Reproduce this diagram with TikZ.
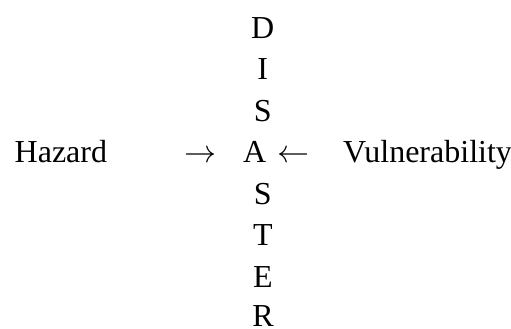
\documentclass[tikz,border=0pt]{standalone}
\usepackage{fix-cm}
\usepackage{fontspec}
\setmainfont{Liberation Serif}
\usepackage{tikz}
\usetikzlibrary{positioning}

\begin{document}
\begin{tikzpicture}[
  x=1pt,
  y=-1pt,
  word/.style={anchor=base, inner sep=0pt, font=\fontsize{32}{38}\selectfont},
  letter/.style={word},
  sign/.style={word}
]
  % Frame: 511 x 329, origin at the upper left
  \useasboundingbox (0, 0) rectangle (511, 329);
  % The word read downwards (x, baseline)
  \foreach \ch/\x/\y/\nm in {D/262.7/38/d, I/262.7/79.5/i, S/262.7/121/s1,
                             A/254.7/162.5/a, S/262.7/204/s2, T/263/245.5/t,
                             E/263/287/e, R/263/326.5/r} {
    \node[letter] (\nm) at (\x, \y) {\ch};
  }
  % The two causes on the middle row
  \node[word, anchor=base west] (hazard) at (14.5, 162.5) {Hazard};
  \node[word, anchor=base west] (vuln) at (343, 162.5) {Vulnerability};
  % Arrow signs set as text
  \node[sign] (toa) at (200, 162.5) {$\rightarrow$};
  \node[sign] (froma) at (293, 162.5) {$\leftarrow$};
\end{tikzpicture}
\end{document}
